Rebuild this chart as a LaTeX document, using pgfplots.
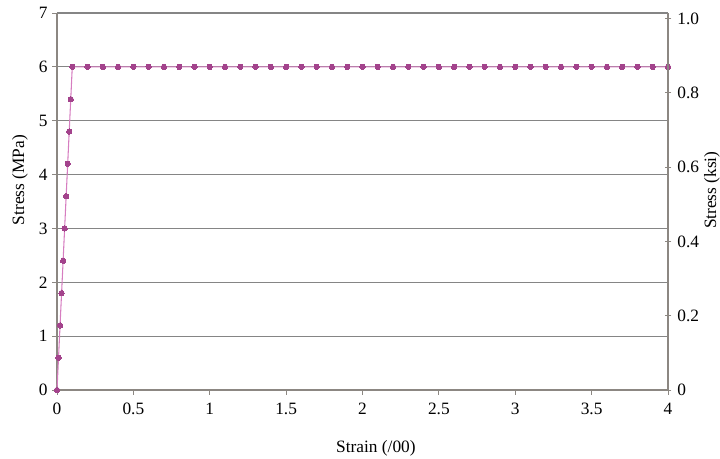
\documentclass[border=0pt]{standalone}
\usepackage{pgfplots}
\pgfplotsset{compat=1.18}
\usepackage{fontspec}
\setmainfont{Liberation Serif}

\definecolor{gridgray}{HTML}{858585}
\definecolor{axisgray}{HTML}{8C8782}
\definecolor{markcol}{HTML}{A3438C}
\definecolor{linecol}{HTML}{D67DC0}

% stress-strain curve: linear rise, then constant plateau at 6 MPa
\pgfplotstableread{
strain stress
0    0
0.01 0.6
0.02 1.2
0.03 1.8
0.04 2.4
0.05 3.0
0.06 3.6
0.07 4.2
0.08 4.8
0.09 5.4
0.1  6
0.2  6
0.3  6
0.4  6
0.5  6
0.6  6
0.7  6
0.8  6
0.9  6
1.0  6
1.1  6
1.2  6
1.3  6
1.4  6
1.5  6
1.6  6
1.7  6
1.8  6
1.9  6
2.0  6
2.1  6
2.2  6
2.3  6
2.4  6
2.5  6
2.6  6
2.7  6
2.8  6
2.9  6
3.0  6
3.1  6
3.2  6
3.3  6
3.4  6
3.5  6
3.6  6
3.7  6
3.8  6
3.9  6
4.0  6
}\curve

\begin{document}
\begin{tikzpicture}
\path[use as bounding box] (-42.75pt,-51.75pt) rectangle (497.25pt,292.5pt);
\begin{axis}[
  at={(0,0)}, anchor=south west,
  scale only axis, width=458.25pt, height=282.75pt,
  xmin=0, xmax=4, ymin=0, ymax=7,
  axis y line*=left, axis x line*=bottom,
  axis line style={axisgray, line width=0.9pt},
  xtick={0,0.5,...,4}, ytick={0,1,...,7},
  tick align=outside, major tick length=3.5pt,
  tick style={axisgray, line width=0.7pt},
  ymajorgrids, grid style={gridgray, line width=0.8pt},
  font=\fontsize{13}{15}\selectfont,
  /pgf/number format/assume math mode=true,
  xticklabel style={yshift=-3pt},
  xlabel={Strain (/00)},
  xlabel style={at={(axis description cs:0.522,-0.154)}, anchor=center},
  ylabel={Stress (MPa)},
  ylabel style={at={(axis description cs:-0.0606,0.557)}, anchor=center},
  clip=false,
]
\addplot[linecol, line width=0.8pt, mark=*, mark size=2pt,
  mark options={fill=markcol, draw=markcol, line width=0pt}]
  table[x=strain, y=stress] {\curve};
\end{axis}
\begin{axis}[
  at={(0,0)}, anchor=south west,
  scale only axis, width=458.25pt, height=282.75pt,
  xmin=0, xmax=4, ymin=0, ymax=1.01526,
  axis y line*=right, axis x line=none,
  axis line style={axisgray, line width=0.9pt},
  ytick={0,0.2,0.4,0.6,0.8,1.0},
  yticklabels={0,0.2,0.4,0.6,0.8,1.0},
  tick align=center, major tick length=5pt,
  tick style={axisgray, line width=0.7pt},
  font=\fontsize{13}{15}\selectfont,
  yticklabel style={xshift=1pt},
  ylabel={Stress (ksi)},
  ylabel style={at={(axis description cs:1.072,0.53)}, anchor=center},
]
\end{axis}
\end{tikzpicture}
\end{document}
